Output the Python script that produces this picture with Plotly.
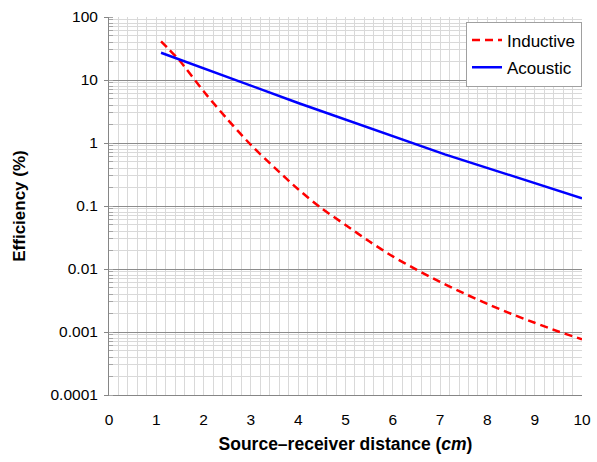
import plotly.graph_objects as go

# Inductive link efficiency (%) vs distance (cm)
ind_x = [1.1, 1.25, 1.5, 2.0, 2.5, 3.0, 3.5, 4.0, 4.5, 5.0, 5.5,
         6.0, 6.5, 7.0, 7.5, 8.0, 8.5, 9.0, 9.5, 10.0]
ind_y = [41.0, 31.6, 20.0, 6.61, 2.40, 0.933, 0.407, 0.184, 0.0912, 0.0501, 0.0275,
         0.01585, 0.00977, 0.00624, 0.00412, 0.00279, 0.00195, 0.0014, 0.00102, 0.000767]

# Acoustic link efficiency (%) vs distance (cm)
ac_x = [1.1, 4.0, 7.1, 10.0]
ac_y = [27.1, 4.32, 0.66, 0.133]

y_tickvals = [100, 10, 1, 0.1, 0.01, 0.001, 0.0001]
y_ticktext = ["100", "10", "1", "0.1", "0.01", "0.001", "0.0001"]
x_tickvals = list(range(0, 11))

FONT = "Arial, Liberation Sans, sans-serif"

fig = go.Figure()
fig.add_trace(go.Scatter(x=ind_x, y=ind_y, mode="lines", name="Inductive", legendgroup="a",
                         line=dict(color="#ff0000", width=2.5, dash="8px,5px",
                                   shape="spline", smoothing=0.8)))
fig.add_trace(go.Scatter(x=ac_x, y=ac_y, mode="lines", name="Acoustic", legendgroup="b",
                         line=dict(color="#0000ff", width=2.5)))

fig.update_layout(
    width=597, height=462,
    margin=dict(l=109, r=15, t=17, b=67),
    paper_bgcolor="white", plot_bgcolor="white",
    font=dict(family=FONT, size=15.5, color="black"),
    legend=dict(x=1, xanchor="right", y=0.988, yanchor="top",
                bgcolor="white", bordercolor="#a0a0a0", borderwidth=1,
                traceorder="grouped", tracegroupgap=2,
                font=dict(size=17, family=FONT)),
    showlegend=True,
)
fig.update_xaxes(
    range=[0, 10], tickvals=x_tickvals, ticks="", showline=True, linecolor="#868686",
    linewidth=1, showgrid=True, gridcolor="#d9d9d9", gridwidth=1, zeroline=False,
    ticklabelstandoff=10, automargin=False,
    minor=dict(dtick=0.2, showgrid=True, gridcolor="#d9d9d9", gridwidth=1),
    title=dict(text="<b>Source–receiver distance (<i>cm</i>)</b>", font=dict(size=17.5), standoff=11),
)
fig.update_yaxes(
    type="log", range=[-4, 2], tickvals=y_tickvals, ticktext=y_ticktext,
    ticks="outside", ticklen=4, tickcolor="#868686", ticklabelstandoff=3,
    showline=True, linecolor="#868686", linewidth=1, automargin=False,
    showgrid=True, gridcolor="#8c8c8c", gridwidth=1, zeroline=False,
    minor=dict(dtick="D1", showgrid=True, gridcolor="#d9d9d9", gridwidth=1,
               ticks="inside", ticklen=4, tickcolor="#a6a6a6"),
    title=dict(text="<b>Efficiency (%)</b>", font=dict(size=17), standoff=20),
)

fig.write_html("out.html")
